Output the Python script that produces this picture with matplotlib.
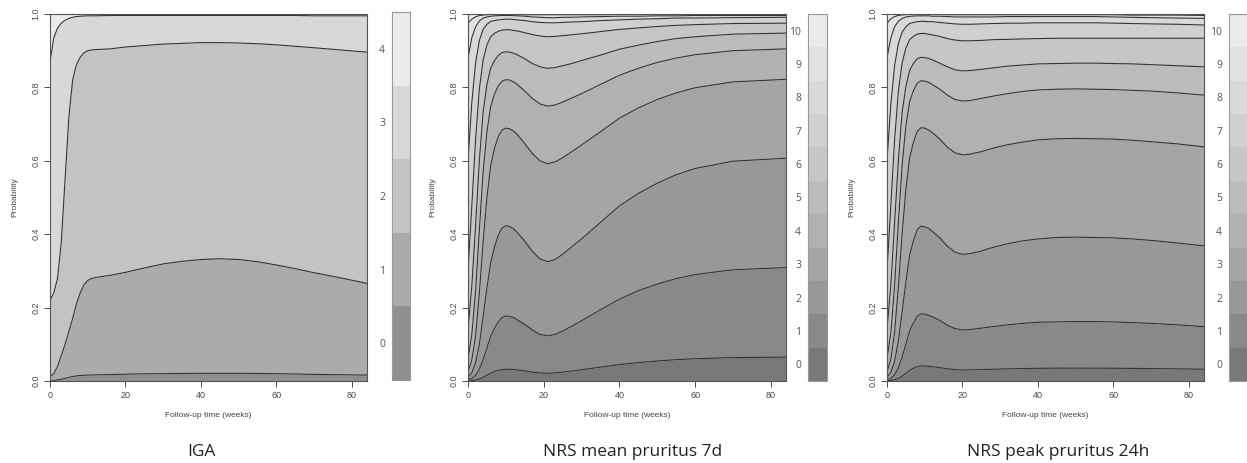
import numpy as np
import matplotlib.pyplot as plt

# ---- IGA (cumulative probabilities P(score <= k), k = 0..3) ----
iga_weeks = [0, 1, 2, 3, 4, 5, 6, 7, 8, 9, 10, 11, 12, 14, 16, 20, 25, 30, 35, 40, 45, 50, 55, 60, 65, 70, 77, 84]
iga_c0 = [0, .001, .003, .005, .007, .010, .012, .014, .015, .0155, .016, .0163, .0166, .017, .0175, .0185, .0195, .020,
          .0205, .021, .021, .021, .0205, .020, .019, .018, .017, .016]
iga_c1 = [.012, .02, .04, .07, .10, .135, .17, .21, .24, .262, .274, .279, .282, .285, .288, .296, .308, .319,
          .326, .331, .333, .331, .325, .316, .306, .295, .281, .266]
iga_c2 = [.22, .24, .28, .38, .55, .72, .82, .862, .882, .894, .90, .902, .903, .904, .905, .910, .914, .918,
          .920, .922, .922, .921, .919, .916, .912, .908, .902, .896]
iga_c3 = [.87, .935, .962, .975, .983, .988, .991, .993, .994, .9945, .995, .995, .995, .9955, .996, .996, .996, .996,
          .996, .996, .996, .996, .996, .996, .996, .995, .995, .995]
iga_levels = [0, 1, 2, 3, 4]

# ---- NRS mean pruritus 7d (k = 0..9) ----
mean_weeks = [0, 1, 2, 3, 4, 5, 6, 7, 8, 9, 10, 11, 12, 13, 15, 17, 19, 21, 23, 25, 27, 30, 35, 40, 45, 50, 55, 60, 70, 84]
mean_c0 = [0, .0011, .0025, .0052, .0098, .0154, .0213, .026, .029, .031, .032, .0318, .0311, .030, .0273, .0242, .0219,
           .021, .0219, .0241, .0267, .0307, .0377, .0448, .050, .0544, .058, .0606, .0637, .065]
mean_c1 = [.003, .0068, .0151, .032, .058, .090, .122, .143, .161, .173, .177, .176, .173, .167, .154, .139, .127,
           .123, .127, .136, .147, .164, .194, .223, .246, .264, .279, .290, .303, .309]
mean_c2 = [.010, .022, .049, .100, .175, .254, .323, .365, .397, .417, .423, .421, .415, .405, .381, .353, .333,
           .325, .331, .345, .362, .387, .432, .477, .511, .539, .562, .579, .599, .607]
mean_c3 = [.025, .057, .122, .239, .380, .500, .587, .634, .666, .684, .689, .687, .681, .672, .647, .620, .600,
           .592, .597, .608, .622, .643, .679, .716, .744, .767, .785, .799, .815, .822]
mean_c4 = [.060, .126, .244, .411, .570, .679, .748, .782, .804, .817, .821, .820, .815, .808, .790, .770, .755,
           .749, .752, .760, .769, .783, .808, .833, .852, .868, .880, .889, .900, .905]
mean_c5 = [.140, .257, .423, .601, .733, .808, .853, .873, .887, .895, .897, .896, .893, .889, .878, .865, .856,
           .852, .854, .859, .864, .873, .888, .904, .915, .925, .933, .938, .945, .948]
mean_c6 = [.300, .475, .657, .796, .875, .916, .938, .947, .953, .956, .957, .957, .955, .954, .949, .944, .940,
           .938, .939, .941, .943, .946, .952, .958, .962, .966, .969, .971, .974, .975]
mean_c7 = [.600, .758, .866, .928, .958, .972, .980, .982, .984, .985, .986, .986, .985, .984, .982, .979, .977,
           .976, .976, .977, .978, .979, .982, .984, .986, .987, .989, .989, .990, .991]
mean_c8 = [.880, .935, .965, .981, .989, .992, .994, .995, .9955, .996, .996, .996, .9955, .995, .994, .992, .991,
           .990, .990, .991, .991, .992, .993, .994, .994, .995, .995, .996, .996, .996]
mean_c9 = [.975, .986, .9925, .9957, .9973, .9981, .9986, .9988, .9989, .999, .999, .999, .999, .999, .998, .998, .998,
           .998, .998, .998, .998, .998, .998, .999, .999, .999, .999, .999, .999, .999]
mean_levels = list(range(11))

# ---- NRS peak pruritus 24h (k = 0..9) ----
peak_weeks = [0, 1, 2, 3, 4, 5, 6, 7, 8, 9, 10, 11, 12, 14, 16, 18, 20, 22, 25, 28, 32, 36, 40, 45, 50,
              55, 60, 65, 70, 77, 84]
peak_c0 = [0, .0012, .003, .0066, .0127, .0206, .029, .0346, .039, .041, .0408, .0401, .039, .0364, .0332, .0309, .030,
           .0302, .031, .032, .0331, .0339, .0345, .0349, .035, .0349, .0347, .0343, .0339, .033, .032]
peak_c1 = [.003, .0071, .0166, .035, .065, .100, .137, .158, .176, .183, .182, .179, .175, .165, .152, .143, .139,
           .140, .144, .148, .153, .157, .160, .161, .162, .162, .161, .159, .157, .153, .148]
peak_c2 = [.010, .023, .053, .108, .187, .269, .343, .382, .412, .422, .420, .416, .408, .390, .367, .351, .345,
           .347, .354, .364, .374, .382, .387, .391, .392, .391, .390, .387, .383, .376, .368]
peak_c3 = [.025, .059, .132, .255, .400, .522, .608, .650, .680, .690, .689, .684, .677, .659, .637, .622, .616,
           .618, .625, .634, .644, .651, .657, .660, .661, .660, .659, .656, .652, .646, .638]
peak_c4 = [.060, .130, .259, .429, .587, .694, .761, .791, .811, .818, .817, .814, .808, .795, .779, .767, .763,
           .764, .770, .776, .783, .789, .793, .795, .796, .795, .794, .792, .790, .785, .779]
peak_c5 = [.140, .259, .428, .599, .731, .802, .846, .865, .878, .882, .881, .879, .875, .866, .856, .848, .845,
           .846, .849, .853, .858, .861, .864, .865, .866, .866, .865, .864, .862, .859, .856]
peak_c6 = [.300, .475, .655, .788, .866, .907, .930, .939, .945, .947, .947, .945, .943, .939, .933, .929, .927,
           .927, .928, .930, .931, .932, .933, .934, .934, .934, .934, .934, .934, .934, .934]
peak_c7 = [.600, .752, .858, .919, .950, .965, .974, .977, .979, .980, .980, .979, .979, .977, .975, .973, .972,
           .972, .973, .974, .975, .975, .976, .976, .976, .976, .975, .974, .973, .972, .970]
peak_c8 = [.880, .934, .965, .980, .988, .9916, .9936, .9944, .9948, .995, .995, .995, .994, .994, .993, .992, .992,
           .992, .992, .992, .993, .993, .993, .993, .993, .993, .992, .991, .990, .989, .988]
peak_c9 = [.975, .9867, .993, .9961, .9976, .9983, .9987, .9988, .999, .999, .999, .999, .999, .999, .998, .998, .998,
           .998, .998, .998, .998, .998, .998, .998, .998, .998, .998, .997, .997, .997, .996]
peak_levels = list(range(11))

titles = ["IGA", "NRS mean pruritus 7d", "NRS peak pruritus 24h"]


def gray_colors(n, start, end, gamma=2.2):
    # same idea as R's gray.colors()
    v = np.linspace(start ** gamma, end ** gamma, n) ** (1 / gamma)
    return [(g, g, g) for g in v]


W, H = 1247, 463
fig = plt.figure(figsize=(W / 100, H / 100), dpi=100)
fig.patch.set_facecolor("white")


def px_axes(x0, y0, x1, y1):
    return fig.add_axes([x0 / W, 1 - y1 / H, (x1 - x0) / W, (y1 - y0) / H])


def draw_panel(ax, cax, weeks, curves, levels, cols):
    x = np.array(weeks, dtype=float)
    bounds = [np.zeros_like(x)] + [np.array(c) for c in curves] + [np.ones_like(x)]
    for k in range(len(levels)):
        ax.fill_between(x, bounds[k], bounds[k + 1], color=cols[k], lw=0)
    for c in curves:
        ax.plot(x, c, color="#333333", lw=0.8)
    ax.set_xlim(0, 84)
    ax.set_ylim(0, 1)
    ax.set_xticks([0, 20, 40, 60, 80])
    ax.set_yticks([0, 0.2, 0.4, 0.6, 0.8, 1.0])
    ax.set_yticklabels(["0.0", "0.2", "0.4", "0.6", "0.8", "1.0"], rotation=90, va="center")
    ax.tick_params(labelsize=6.5, colors="#4a4a4a", length=4, width=0.7, pad=3)
    for lab in ax.get_xticklabels() + ax.get_yticklabels():
        lab.set_family("Liberation Sans")
    for s in ax.spines.values():
        s.set_color("#555555")
        s.set_linewidth(0.8)
    ax.set_xlabel("Follow-up time (weeks)", fontsize=6, color="#444444", labelpad=9,
                  family="Liberation Sans")
    ax.set_ylabel("Probability", fontsize=6, color="#444444", labelpad=9,
                  family="Liberation Sans")

    for k, lv in enumerate(levels):
        cax.axhspan(lv - 0.5, lv + 0.5, color=cols[k], lw=0)
    cax.set_ylim(levels[0] - 0.5, levels[-1] + 0.5)
    cax.set_xlim(0, 1)
    cax.set_xticks([])
    cax.set_yticks(levels)
    cax.set_yticklabels([str(v) for v in levels])
    cax.tick_params(axis="y", length=0, pad=5, labelsize=7.5, colors="#555555")
    for lab in cax.get_yticklabels():
        lab.set_family("Open Sans")
    for s in cax.spines.values():
        s.set_color("#9a9a9a")
        s.set_linewidth(0.8)


ax1 = px_axes(50, 14, 367, 381)
cb1 = px_axes(392, 12, 410, 380)
draw_panel(ax1, cb1, iga_weeks, [iga_c0, iga_c1, iga_c2, iga_c3],
           iga_levels, gray_colors(5, 0.56, 0.92))

ax2 = px_axes(468, 14, 786, 381)
cb2 = px_axes(808, 14, 827, 381)
draw_panel(ax2, cb2, mean_weeks,
           [mean_c0, mean_c1, mean_c2, mean_c3, mean_c4, mean_c5, mean_c6, mean_c7, mean_c8, mean_c9],
           mean_levels, gray_colors(11, 0.47, 0.92))

ax3 = px_axes(887, 14, 1204, 381)
cb3 = px_axes(1229, 14, 1248, 381)
draw_panel(ax3, cb3, peak_weeks,
           [peak_c0, peak_c1, peak_c2, peak_c3, peak_c4, peak_c5, peak_c6, peak_c7, peak_c8, peak_c9],
           peak_levels, gray_colors(11, 0.47, 0.92))

for xc, t in zip([201, 633, 1058], titles):
    fig.text(xc / W, 1 - 452 / H, t, ha="center", va="center", fontsize=12.5,
             family="Open Sans", color="#222222")

fig.savefig("out.png", dpi=100, facecolor="white")
